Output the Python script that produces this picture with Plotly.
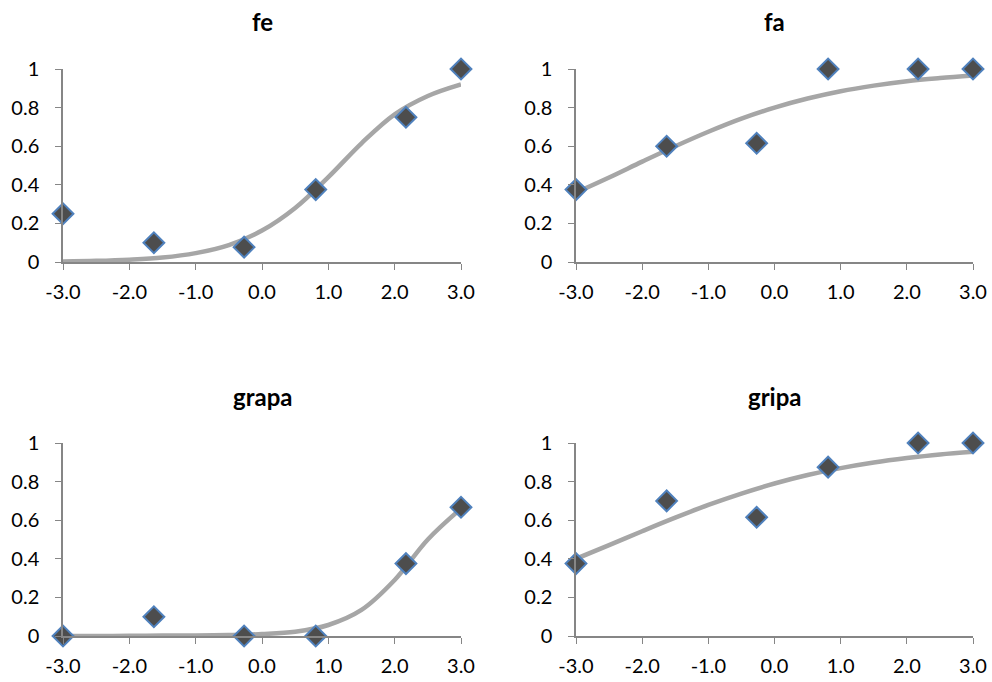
import plotly.graph_objects as go

# ---- data ----
titles = ["fe", "fa", "grapa", "gripa"]
x_points = [-3.0, -1.63, -0.27, 0.81, 2.17, 3.0]
fe_obs = [0.25, 0.10, 0.077, 0.375, 0.75, 1.0]
fa_obs = [0.375, 0.60, 0.615, 1.0, 1.0, 1.0]
grapa_obs = [0.0, 0.10, 0.0, 0.0, 0.375, 0.667]
gripa_obs = [0.375, 0.70, 0.615, 0.875, 1.0, 1.0]

x_curve = [-3.0, -2.5, -2.0, -1.5, -1.0, -0.5, 0.0, 0.5, 1.0, 1.5, 2.0, 2.5, 3.0]
fe_fit = [0.003, 0.006, 0.012, 0.023, 0.046, 0.088, 0.163, 0.28, 0.44, 0.615, 0.765, 0.86, 0.92]
fa_fit = [0.36, 0.438, 0.52, 0.60, 0.675, 0.743, 0.80, 0.847, 0.885, 0.914, 0.937, 0.953, 0.966]
grapa_fit = [0.0, 0.0, 0.001, 0.002, 0.003, 0.005, 0.010, 0.022, 0.057, 0.135, 0.29, 0.50, 0.66]
gripa_fit = [0.40, 0.471, 0.543, 0.613, 0.679, 0.738, 0.79, 0.834, 0.87, 0.899, 0.922, 0.941, 0.955]

x_ticks = [-3.0, -2.0, -1.0, 0.0, 1.0, 2.0, 3.0]
x_ticktext = ["-3.0", "-2.0", "-1.0", "0.0", "1.0", "2.0", "3.0"]
y_ticks = [0, 0.2, 0.4, 0.6, 0.8, 1.0]
y_ticktext = ["0", "0.2", "0.4", "0.6", "0.8", "1"]

observed = [fe_obs, fa_obs, grapa_obs, gripa_obs]
fitted = [fe_fit, fa_fit, grapa_fit, gripa_fit]

W, H = 992, 682
FONT = "Lato, 'Open Sans', sans-serif"
AX = "#868686"

# plot-area pixel boxes (left, right, top, bottom)
boxes = [(63, 461, 69, 262), (576, 973, 69, 262),
         (63, 461, 443, 636), (576, 973, 443, 636)]

fig = go.Figure()
layout = {}
annotations = []
for i in range(4):
    n = "" if i == 0 else str(i + 1)
    xa, ya = "x" + n, "y" + n
    fig.add_trace(go.Scatter(
        x=x_curve, y=fitted[i], mode="lines", line=dict(color="#a6a6a6", width=4.5, shape="spline"),
        xaxis=xa, yaxis=ya, showlegend=False, hoverinfo="skip"))
    fig.add_trace(go.Scatter(
        x=x_points, y=observed[i], mode="markers",
        marker=dict(symbol="diamond", size=16, color="#4d4d4d",
                    line=dict(color="#4f81bd", width=2)),
        xaxis=xa, yaxis=ya, showlegend=False, cliponaxis=False))
    l, r, t, b = boxes[i]
    layout["xaxis" + n] = dict(
        domain=[l / W, r / W], range=[-3, 3], anchor=ya, automargin=False,
        tickvals=x_ticks, ticktext=x_ticktext, ticks="outside", ticklen=6, tickcolor=AX,
        ticklabelstandoff=5,
        showline=True, linecolor=AX, linewidth=1.5, showgrid=False, zeroline=False,
        tickfont=dict(family=FONT, size=20, color="#000"))
    layout["yaxis" + n] = dict(
        domain=[1 - b / H, 1 - t / H], range=[0, 1], anchor=xa, automargin=False,
        tickvals=y_ticks, ticktext=y_ticktext,
        ticks="outside", ticklen=6, tickcolor=AX, ticklabelstandoff=12,
        showline=True, linecolor=AX, linewidth=1.5, showgrid=False, zeroline=False,
        tickfont=dict(family=FONT, size=20, color="#000"))
    annotations.append(dict(
        text="<b>" + titles[i] + "</b>", x=(l + r) / 2 / W, y=1 - (t - 47) / H,
        xref="paper", yref="paper", showarrow=False, xanchor="center", yanchor="middle",
        font=dict(family=FONT, size=24, color="#000")))

fig.update_layout(
    width=W, height=H, margin=dict(l=0, r=0, t=0, b=0),
    paper_bgcolor="white", plot_bgcolor="white",
    annotations=annotations, **layout)

fig.write_html("out.html", config={"displayModeBar": False},
               post_script="document.body.style.margin='0';")
